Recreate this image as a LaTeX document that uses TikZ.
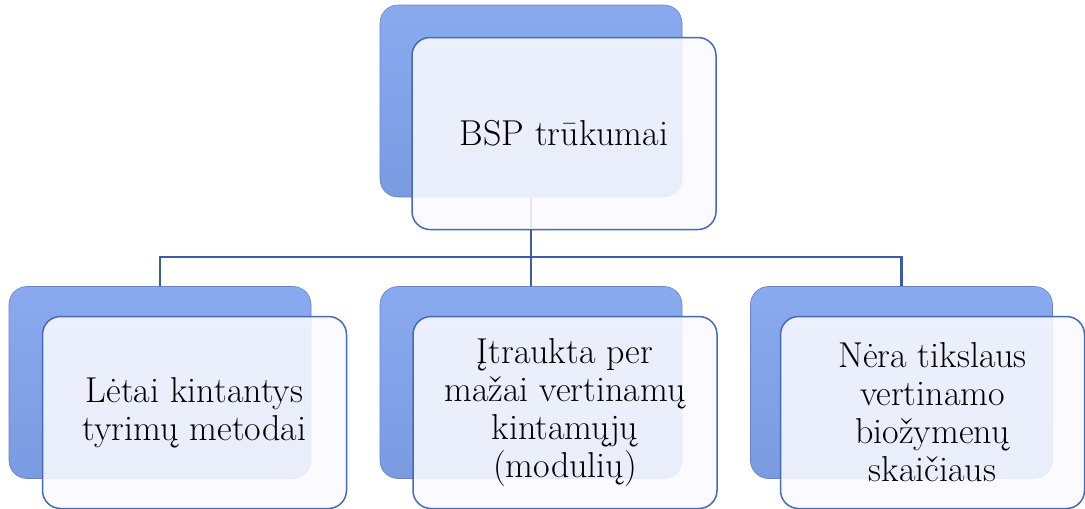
\documentclass[tikz,border=0pt]{standalone}
\usepackage{fontspec}
\usetikzlibrary{positioning,calc,backgrounds}
\definecolor{bspback}{RGB}{122,154,225}
\definecolor{bspbacktop}{RGB}{138,170,240}
\definecolor{bspfront}{RGB}{250,250,255}
\definecolor{bspedge}{RGB}{68,106,184}
\definecolor{bsplink}{RGB}{58,92,170}
\tikzset{
  backbox/.style={
    rectangle, rounded corners=18pt, draw=bspback!85!black, line width=0.6pt,
    top color=bspbacktop, bottom color=bspback,
    minimum width=302pt, minimum height=192pt, inner sep=0pt
  },
  frontbox/.style={
    rectangle, rounded corners=18pt, draw=bspedge, line width=1.5pt,
    fill=bspfront, fill opacity=0.88, text opacity=1,
    minimum width=304pt, minimum height=192pt, inner sep=0pt,
    align=center, font=\fontsize{36pt}{38pt}\selectfont
  },
  link/.style={draw=bsplink, line width=2.2pt}
}
\begin{document}
\begin{tikzpicture}[x=1pt,y=-1pt]
  \useasboundingbox (0,0) rectangle (1085,509);

  % root
  \node[backbox] (rootb) at (531,101) {};
  \node[frontbox] (root) at (564,133.5) {BSP trūkumai};

  % children
  \node[backbox] (slowb) at (160,382.5) {};
  \node[frontbox] (slow) at (194.5,412.5) {Lėtai kintantys\\tyrimų metodai};
  \node[backbox] (fewb) at (531,382.5) {};
  \node[frontbox] (few) at (565,412.5) {Įtraukta per\\mažai vertinamų\\kintamųjų\\(modulių)};
  \node[backbox] (countb) at (901.5,382.5) {};
  \node[frontbox] (count) at (932.5,412.5) {Nėra tikslaus\\vertinamo\\biožymenų\\skaičiaus};

  \begin{scope}[on background layer]
    \coordinate (bus) at (531,257);
    \draw[link] (rootb.south) -- (bus);
    \draw[link] (bus) -| (slowb.north);
    \draw[link] (bus) -- (fewb.north);
    \draw[link] (bus) -| (countb.north);
  \end{scope}
\end{tikzpicture}
\end{document}
